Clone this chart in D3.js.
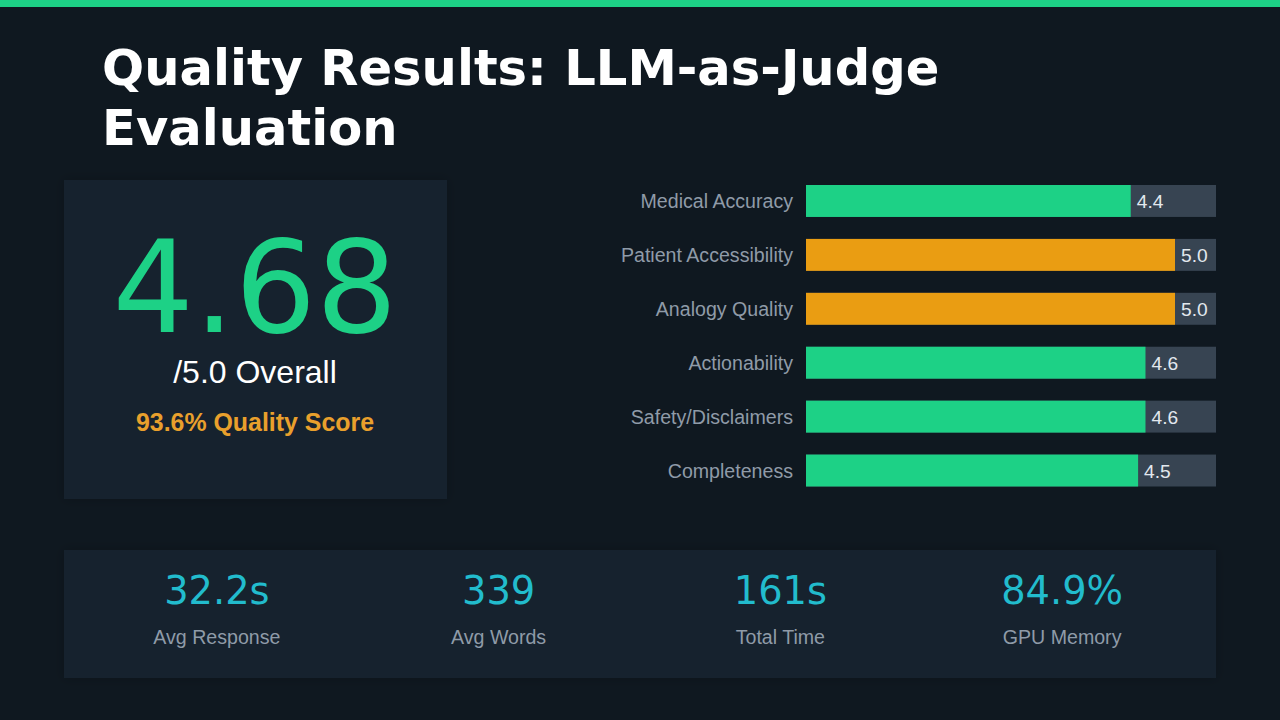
<!DOCTYPE html>
<html><head><meta charset="utf-8">
<script src="https://cdn.jsdelivr.net/npm/d3@7"></script>
<style>html,body{margin:0;padding:0;background:#0f1820;overflow:hidden}svg{display:block}</style>
</head><body><svg id="c" width="1280" height="720"></svg>
<script>
const titleLines = ["Quality Results: LLM-as-Judge","Evaluation"];
const categories = ["Medical Accuracy","Patient Accessibility","Analogy Quality","Actionability","Safety/Disclaimers","Completeness"];
const scores = [4.4,5.0,5.0,4.6,4.6,4.5];
const scoreLabels = ["4.4","5.0","5.0","4.6","4.6","4.5"];
const overallValue = "4.68";
const overallLabel = "/5.0 Overall";
const qualityLabel = "93.6% Quality Score";
const statValues = ["32.2s","339","161s","84.9%"];
const statLabels = ["Avg Response","Avg Words","Total Time","GPU Memory"];

const GREEN="#1dd186", AMBER="#ea9d12", CARD="#18222d", TRACK="#374452", MUTED="#8f9ba8", CYAN="#22bccd";
const SANS="'Liberation Sans',Arial,sans-serif", DJ="'DejaVu Sans',sans-serif";
const svg=d3.select("#c");
const defs=svg.append("defs");
const f=defs.append("filter").attr("id","sh").attr("x","-10%").attr("y","-10%").attr("width","120%").attr("height","120%");
f.append("feDropShadow").attr("dx",0).attr("dy",0).attr("stdDeviation",6).attr("flood-color","#000").attr("flood-opacity",0.2);

svg.append("rect").attr("width",1280).attr("height",720).attr("fill","#0f1820");
svg.append("rect").attr("width",1280).attr("height",7).attr("fill",GREEN);

svg.selectAll("text.title").data(titleLines).join("text").attr("class","title")
  .attr("x",102).attr("y",(d,i)=>85+i*60).attr("fill","#fff")
  .attr("font-family",DJ).attr("font-weight",700).attr("font-size",49.6).text(d=>d);

// score card
svg.append("rect").attr("x",64).attr("y",180).attr("width",383).attr("height",319).attr("fill",CARD).attr("filter","url(#sh)");
const cx=255;
svg.append("text").attr("x",cx).attr("y",332).attr("text-anchor","middle").attr("fill",GREEN)
  .attr("font-family",DJ).attr("font-size",128).text(overallValue);
svg.append("text").attr("x",cx).attr("y",383).attr("text-anchor","middle").attr("fill","#fff")
  .attr("font-family",SANS).attr("font-size",32).text(overallLabel);
svg.append("text").attr("x",cx).attr("y",431).attr("text-anchor","middle").attr("fill","#e9a02c")
  .attr("font-family",SANS).attr("font-weight",700).attr("font-size",24.9).text(qualityLabel);

// bars
const x=d3.scaleLinear().domain([0,5/0.9]).range([806,1216]);
const y=d3.scaleBand().domain(categories).range([185,486.5]).paddingInner(22/54).paddingOuter(0);
const rows=svg.selectAll("g.row").data(categories).join("g").attr("class","row");
rows.append("rect").attr("x",x(0)).attr("y",d=>y(d)).attr("width",x.range()[1]-x(0)).attr("height",y.bandwidth()).attr("fill",TRACK);
rows.append("rect").attr("x",x(0)).attr("y",d=>y(d)).attr("height",y.bandwidth())
  .attr("width",(d,i)=>x(scores[i])-x(0)).attr("fill",(d,i)=>scores[i]>=5?AMBER:GREEN);
rows.append("text").attr("x",793).attr("y",d=>y(d)+y.bandwidth()/2+7.3).attr("text-anchor","end").attr("fill",MUTED)
  .attr("font-family",SANS).attr("font-size",19.6).text(d=>d);
rows.append("text").attr("x",(d,i)=>x(scores[i])+6).attr("y",d=>y(d)+y.bandwidth()/2+7.3).attr("fill","#e2e8ee")
  .attr("font-family",SANS).attr("font-size",19.2).text((d,i)=>scoreLabels[i]);

// stat strip
svg.append("rect").attr("x",64).attr("y",550).attr("width",1152).attr("height",128).attr("fill",CARD).attr("filter","url(#sh)");
const sx=d3.scaleBand().domain(statLabels).range([76,1203]);
svg.selectAll("text.sv").data(statValues).join("text").attr("class","sv")
  .attr("x",(d,i)=>sx(statLabels[i])+sx.bandwidth()/2).attr("y",604).attr("text-anchor","middle").attr("fill",CYAN)
  .attr("font-family",DJ).attr("font-size",38.4).text(d=>d);
svg.selectAll("text.sl").data(statLabels).join("text").attr("class","sl")
  .attr("x",d=>sx(d)+sx.bandwidth()/2).attr("y",644).attr("text-anchor","middle").attr("fill",MUTED)
  .attr("font-family",SANS).attr("font-size",19.6).text(d=>d);
</script></body></html>
